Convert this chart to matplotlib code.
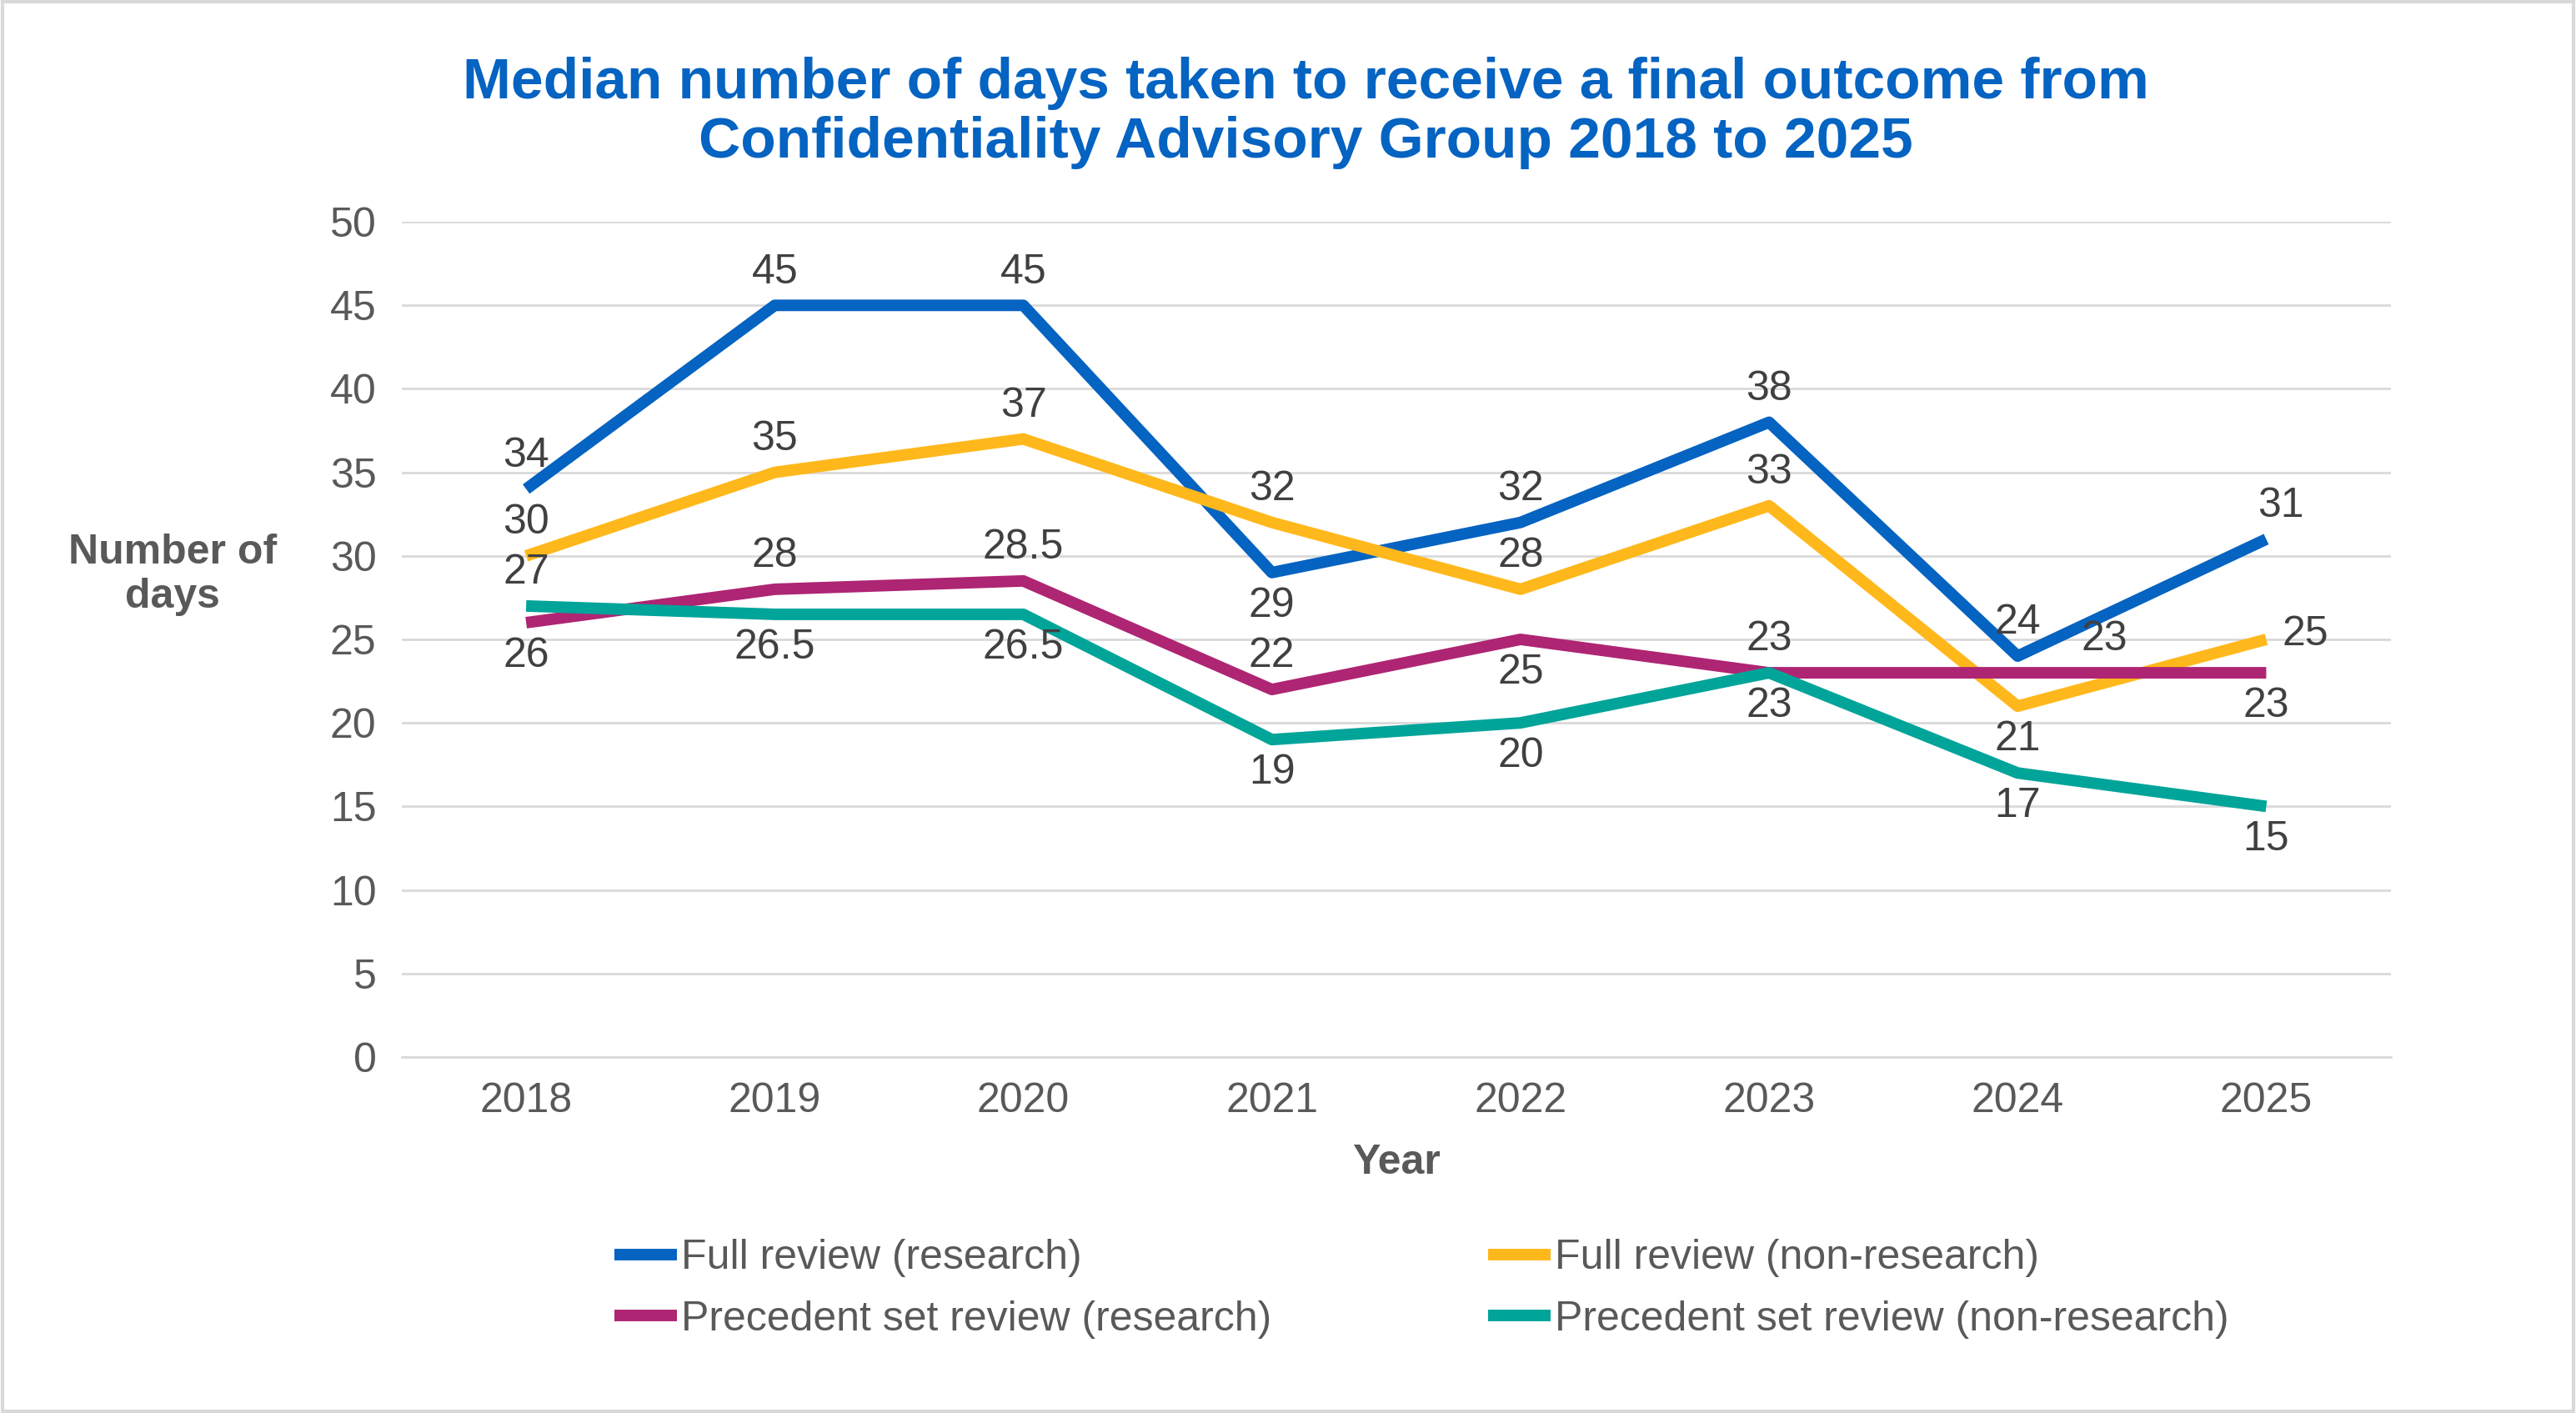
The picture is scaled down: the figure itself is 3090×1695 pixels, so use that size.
import matplotlib
matplotlib.use("Agg")
import matplotlib.pyplot as plt
from matplotlib.patches import Rectangle

plt.rcParams['font.family'] = ['Liberation Sans', 'DejaVu Sans']

years = ["2018", "2019", "2020", "2021", "2022", "2023", "2024", "2025"]
full_research = [34, 45, 45, 29, 32, 38, 24, 31]
full_nonresearch = [30, 35, 37, 32, 28, 33, 21, 25]
prec_research = [26, 28, 28.5, 22, 25, 23, 23, 23]
prec_nonresearch = [27, 26.5, 26.5, 19, 20, 23, 17, 15]

series = [
    ("Full review (research)", full_research, "#0563C1", ['a','a','a','b','a','a','a','a']),
    ("Full review (non-research)", full_nonresearch, "#FFB81C", ['a','a','a','a','a','a','b','r']),
    ("Precedent set review (research)", prec_research, "#AE2573", ['b','a','a','a','b','a','a','b']),
    ("Precedent set review (non-research)", prec_nonresearch, "#00A499", ['a','b','b','b','b','b','b','b']),
]

fig = plt.figure(figsize=(30.9, 16.95), dpi=100)
ax = fig.add_axes([0.156, 0.252, 0.772, 0.591])
x = list(range(len(years)))
handles = {}
FS = 36
for name, vals, col, pos in series:
    h, = ax.plot(x, vals, color=col, lw=10, solid_capstyle='butt', label=name)
    handles[name] = h
    for i, (v, p) in enumerate(zip(vals, pos)):
        dx = 0
        if name == "Precedent set review (research)" and i == 6:
            dx = 0.35
        if name == "Full review (research)" and i == 7:
            dx = 0.06
        lab = f"{v:g}"
        if p == 'a':
            ax.annotate(lab, (i + dx, v), xytext=(0, 12), textcoords='offset points',
                        ha='center', va='bottom', fontsize=FS, color='#404040')
        elif p == 'r':
            ax.annotate(lab, (i, v), xytext=(14, 4), textcoords='offset points',
                        ha='left', va='center', fontsize=FS, color='#404040')
        else:
            ax.annotate(lab, (i + dx, v), xytext=(0, -12), textcoords='offset points',
                        ha='center', va='top', fontsize=FS, color='#404040')

ax.set_xlim(-0.5, 7.5)
ax.set_ylim(0, 50)
ax.set_yticks(range(0, 51, 5))
ax.set_xticks(x)
ax.set_xticklabels(years)
ax.tick_params(axis='both', length=0, labelsize=FS, labelcolor='#595959', pad=22)
ax.grid(axis='y', color='#D9D9D9', lw=2)
ax.set_axisbelow(True)
for s in ['top', 'right', 'left']:
    ax.spines[s].set_visible(False)
ax.spines['bottom'].set_color('#D9D9D9')
ax.spines['bottom'].set_linewidth(2)

ax.set_xlabel("Year", fontsize=FS, fontweight='bold', color='#595959', labelpad=20)
fig.text(0.067, 0.593, "Number of\ndays", fontsize=FS, fontweight='bold', color='#595959',
         ha='center', va='center', linespacing=1.2)

fig.text(0.507, 0.92, "Median number of days taken to receive a final outcome from\nConfidentiality Advisory Group 2018 to 2025",
         fontsize=50, fontweight='bold', color='#0563C1', ha='center', va='center', linespacing=1.15)

order = ["Full review (research)", "Precedent set review (research)",
         "Full review (non-research)", "Precedent set review (non-research)"]
fig.legend(handles=[handles[n] for n in order], loc='center', bbox_to_anchor=(0.552, 0.088), ncol=2,
           frameon=False, fontsize=FS, labelcolor='#595959', handlelength=1.5,
           handletextpad=0.1, columnspacing=5.2, labelspacing=0.55)

fig.add_artist(Rectangle((0.001, 0.001), 0.998, 0.998, transform=fig.transFigure,
                         fill=False, edgecolor='#D9D9D9', lw=3))
fig.savefig("out.png", dpi=100)
